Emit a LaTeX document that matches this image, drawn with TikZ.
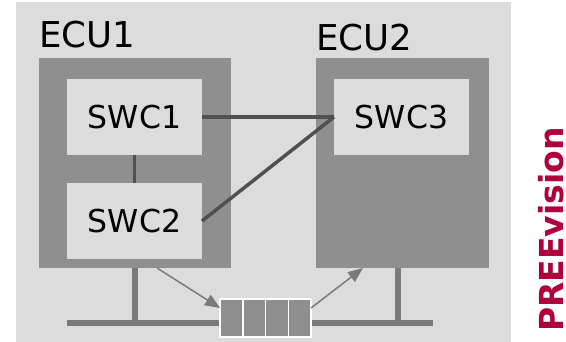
\documentclass[tikz,border=0pt]{standalone}
\usepackage{fontspec}
\setmainfont{DejaVu Sans}
\definecolor{BgGray}{RGB}{220, 220, 220}
\definecolor{EcuGray}{RGB}{143, 143, 143}
\definecolor{LinkGray}{RGB}{80, 80, 80}
\definecolor{BusGray}{RGB}{122, 122, 122}
\definecolor{PVred}{RGB}{176, 0, 58}
\usetikzlibrary{arrows.meta, positioning}

\begin{document}
\begin{tikzpicture}[x=1pt, y=-1pt, inner sep=0pt, outer sep=0pt,
  ecu/.style={fill=EcuGray, minimum height=210pt},
  swc/.style={fill=BgGray, minimum width=135pt, minimum height=76pt, font=\fontsize{31.5}{32}\selectfont},
  lbl/.style={anchor=base west, font=\fontsize{35.6}{36}\selectfont},
  cell/.style={fill=EcuGray, draw=white, line width=1.5pt, minimum width=22.75pt, minimum height=38pt},
  ln/.style={LinkGray, line width=3.5pt},
  bus/.style={BusGray, line width=6pt},
  ar/.style={-{Triangle[length=15pt, width=12pt]}, BusGray, line width=1.5pt}]
\useasboundingbox (0,0) rectangle (566,342);
\fill[BgGray] (16,2) rectangle (511,342);
% control units
\node[ecu, minimum width=192pt] (ecu1) at (135,163) {};
\node[ecu, minimum width=173pt] (ecu2) at (402.5,163) {};
\node[lbl] (ecu1l) at (39,48) {ECU1};
\node[lbl] (ecu2l) at (316,50.5) {ECU2};
% software components
\node[swc] (swc1) at (134.5,117) {SWC1};
\node[swc] (swc2) at (134.5,221) {SWC2};
\node[swc] (swc3) at (401.5,117) {SWC3};
\draw[ln] (swc1) -- (swc2);
\draw[ln] (swc1.east) -- (swc3.west);
\draw[ln] (swc2.east) -- (swc3.west);
% bus
\coordinate (busl) at (67,323);
\coordinate (busr) at (433,323);
\draw[bus] (busl) -- (busr);
\draw[bus] (ecu1.south) -- (ecu1.south |- busl);
\draw[bus] ([xshift=-5pt]ecu2.south) -- ([xshift=-5pt]ecu2.south |- busr);
\foreach \i in {0,...,3}
  \node[cell] (m\i) at (231.4+\i*22.75,318) {};
\draw[ar] ([xshift=118pt]ecu1.south west) -- ([yshift=-9pt]m0.north west);
\draw[ar] ([yshift=-9pt]m3.north east) -- ([xshift=47pt]ecu2.south west);
% tool name
\node[rotate=90, anchor=base west, text=PVred, font=\bfseries\fontsize{33}{33}\selectfont] (pv) at (563,332) {PREEvision};
\end{tikzpicture}
\end{document}
